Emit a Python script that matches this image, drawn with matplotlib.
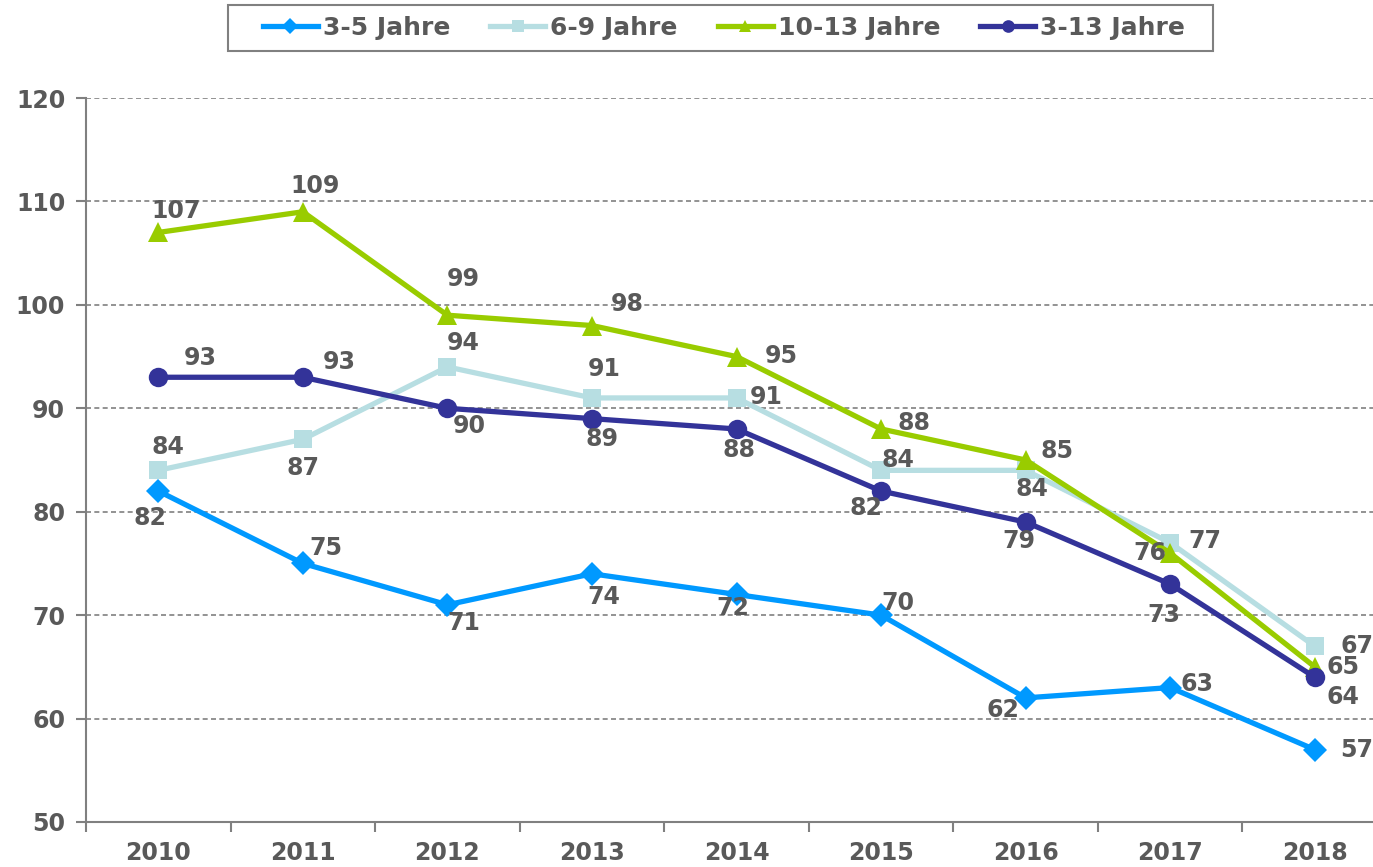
import matplotlib
matplotlib.use('Agg')
import matplotlib.pyplot as plt
from matplotlib.patches import Rectangle
from matplotlib.ticker import FixedLocator, NullFormatter

years = ['2010', '2011', '2012', '2013', '2014', '2015', '2016', '2017', '2018']

age_3_5 = [82, 75, 71, 74, 72, 70, 62, 63, 57]
age_6_9 = [84, 87, 94, 91, 91, 84, 84, 77, 67]
age_10_13 = [107, 109, 99, 98, 95, 88, 85, 76, 65]
age_3_13 = [93, 93, 90, 89, 88, 82, 79, 73, 64]

series_names = ['3-5 Jahre', '6-9 Jahre', '10-13 Jahre', '3-13 Jahre']

# label offsets in pixels (dx, dy), dy positive = down
offsets_3_5 = [(-8, 27), (23, -15), (16, 18), (12, 23), (-4, 14), (17, -12), (-23, 12), (27, -4), (42, 0)]
offsets_6_9 = [(10, -23), (0, 29), (16, -24), (12, -29), (30, -1), (17, -10), (6, 19), (35, -2), (42, 0)]
offsets_10_13 = [(18, -21), (12, -26), (16, -36), (35, -22), (45, -1), (33, -6), (31, -9), (-20, 0), (28, 0)]
offsets_3_13 = [(42, -19), (36, -15), (22, 18), (10, 20), (3, 21), (-15, 17), (-7, 19), (-6, 31), (28, 20)]

TEXT = '#595959'
AXIS = '#808080'
FS = 17
W, H = 1373, 867

plt.rcParams['font.family'] = 'DejaVu Sans'
plt.rcParams['font.weight'] = 'bold'

fig = plt.figure(figsize=(W / 100, H / 100), dpi=100)
ax = fig.add_axes([86 / W, 1 - 822 / H, 1301 / W, (822 - 98) / H])

x = list(range(len(years)))
styles = [
    (age_3_5, '#0099FF', 'D', 12, offsets_3_5),
    (age_6_9, '#B7DEE2', 's', 13, offsets_6_9),
    (age_10_13, '#99CC00', '^', 14, offsets_10_13),
    (age_3_13, '#333399', 'o', 14, offsets_3_13),
]

for (vals, color, marker, ms, offs), name in zip(styles, series_names):
    ax.plot(x, vals, color=color, lw=3.8, marker=marker, ms=ms,
            markeredgewidth=0, label=name)
    for xi, v, (dx, dy) in zip(x, vals, offs):
        ax.annotate(str(v), (xi, v), xytext=(dx, -dy), textcoords='offset pixels',
                    ha='center', va='center', fontsize=FS, color=TEXT,
                    fontweight='bold')

ax.set_xlim(-0.5, len(years) - 0.5)
ax.set_ylim(50, 120)
ax.set_yticks(range(50, 121, 10))
ax.set_xticks(x)
ax.set_xticklabels(years)
ax.xaxis.set_minor_locator(FixedLocator([i - 0.5 for i in range(len(years) + 1)]))
ax.xaxis.set_minor_formatter(NullFormatter())
ax.tick_params(axis='x', which='major', length=0, pad=14, labelsize=FS, labelcolor=TEXT)
ax.tick_params(axis='x', which='minor', length=7, width=1.5, color=AXIS)
ax.tick_params(axis='y', length=7, width=1.5, color=AXIS, labelsize=FS, labelcolor=TEXT, pad=8)

for s in ['top', 'right']:
    ax.spines[s].set_visible(False)
for s in ['left', 'bottom']:
    ax.spines[s].set_color(AXIS)
    ax.spines[s].set_linewidth(1.5)

for yv in range(60, 121, 10):
    ax.axhline(yv, color=AXIS, lw=1.2, ls=(0, (3, 2)), zorder=0)

# legend without its own frame, box drawn separately
leg = fig.legend(loc='center', bbox_to_anchor=(724 / W, 1 - 28 / H), ncol=4,
                 frameon=False, fontsize=18, handlelength=2.2,
                 handletextpad=0.2, columnspacing=1.6, markerscale=0.65)
for t in leg.get_texts():
    t.set_color(TEXT)
fig.patches.append(Rectangle((228 / W, 1 - 51 / H), (1213 - 228) / W, 46 / H,
                             transform=fig.transFigure, fill=False,
                             edgecolor=AXIS, linewidth=1.5))

fig.savefig('out.png', dpi=100)
